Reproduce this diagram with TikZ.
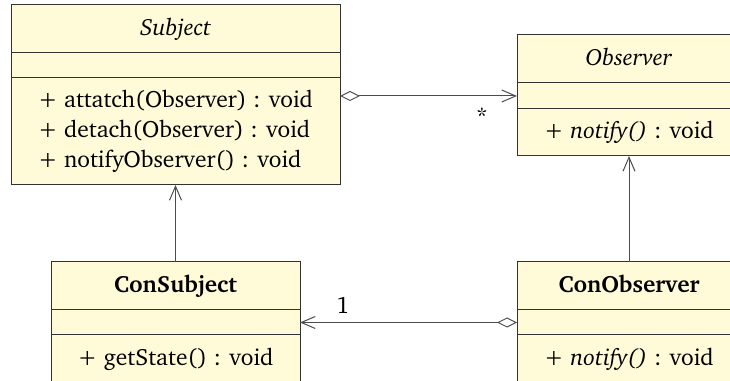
\documentclass[tikz,border=0pt]{standalone}
\usepackage[T1]{fontenc}
\usepackage{charter}
\usetikzlibrary{positioning}
\usetikzlibrary{arrows.meta}

\definecolor{classfill}{RGB}{255,250,215}

\begin{document}
\begin{tikzpicture}
	[x=0.5pt,y=0.5pt,node distance=0pt,font=\fontsize{11.75}{15}\selectfont,
	classhead/.style={rectangle,draw=black!80,line width=0.5pt,fill=classfill,inner sep=0pt,outer sep=0pt,minimum height=24pt,text height=8pt,text depth=1.5pt},
	classattr/.style={rectangle,draw=black!80,line width=0.5pt,fill=classfill,inner sep=0pt,outer sep=0pt,minimum height=12.5pt},
	classops/.style={classattr,align=left,minimum height=23.5pt},
	openarrow/.style={draw=black!70,line width=0.5pt,-{Straight Barb[length=7pt,width=6pt]}},
	aggr/.style={draw=black!70,line width=0.5pt,{Diamond[open,length=10pt,width=5pt]}-{Straight Barb[length=7pt,width=6pt]}}]
	\useasboundingbox (0,0) rectangle (730,381);
	% Subject
	\node[classhead,minimum width=164.5pt,anchor=north] (subject) at (175.5,376) {\textit{Subject}};
	\node[classattr,minimum width=164.5pt] (subjectattr) [below=of subject] {};
	\node[classops,minimum width=164.5pt,minimum height=53.5pt] (subjectops) [below=of subjectattr] {+ attatch(Observer) : void\\+ detach(Observer) : void\\+ notifyObserver() : void};
	% Observer
	\node[classhead,minimum width=112pt,anchor=north] (observer) at (629,346) {\textit{Observer}};
	\node[classattr,minimum width=112pt,minimum height=13pt] (observerattr) [below=of observer] {};
	\node[classops,minimum width=112pt] (observerops) [below=of observerattr] {+ \textit{notify()} : void};
	% ConSubject
	\node[classhead,minimum width=124.5pt,anchor=north] (consubject) at (175.5,119) {\textbf{ConSubject}};
	\node[classattr,minimum width=124.5pt] (consubjectattr) [below=of consubject] {};
	\node[classops,minimum width=124.5pt,minimum height=24.5pt] (consubjectops) [below=of consubjectattr] {+ getState() : void};
	% ConObserver
	\node[classhead,minimum width=112pt,anchor=north] (conobserver) at (629,119) {\textbf{ConObserver}};
	\node[classattr,minimum width=112pt] (conobserverattr) [below=of conobserver] {};
	\node[classops,minimum width=112pt,minimum height=24.5pt] (conobserverops) [below=of conobserverattr] {+ \textit{notify()} : void};
	% connectors
	\draw [openarrow] (consubject.north) -- (subjectops.south);
	\draw [openarrow] (conobserver.north) -- (observerops.south);
	\draw [aggr] (subjectops.east |- observerattr.west) -- (observerattr.west);
	\draw [aggr] (conobserverattr.west) -- (consubjectattr.east);
	\node (many) at (482,265) {*};
	\node (one) at (343,76) {1};
\end{tikzpicture}
\end{document}
